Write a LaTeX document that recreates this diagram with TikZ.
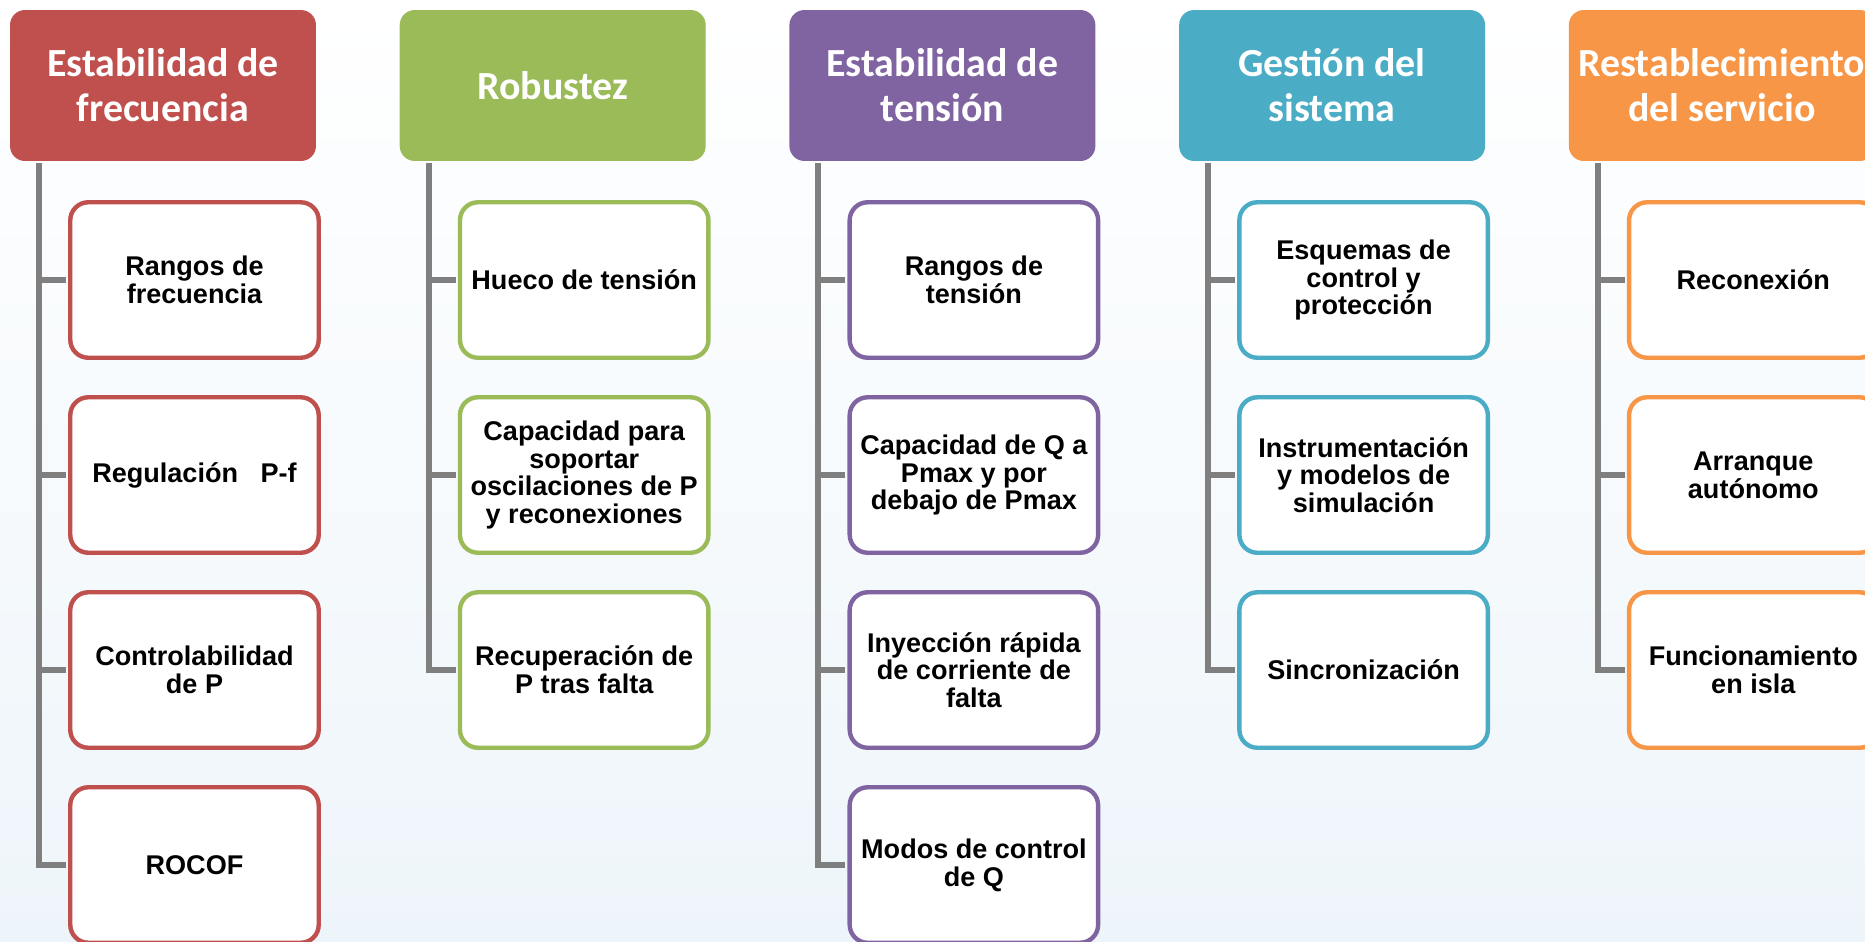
\documentclass[tikz,border=0pt]{standalone}
\usepackage{fontspec}
\setmainfont{Liberation Sans}
\newfontfamily\headfont{Carlito}

% colours of the five columns
\definecolor{col1}{HTML}{C0504D}
\definecolor{col2}{HTML}{9BBB59}
\definecolor{col3}{HTML}{8064A2}
\definecolor{col4}{HTML}{4BACC6}
\definecolor{col5}{HTML}{F79646}
\definecolor{spinegray}{HTML}{7F7F7F}
\definecolor{bglight}{HTML}{EEF5FA}

\tikzset{
  head/.style={rounded corners=0.3cm, minimum width=6.12cm,
    minimum height=3.02cm, inner sep=0pt, text=white, align=center,
    font=\headfont\bfseries\fontsize{22.7}{25.5}\selectfont},
  item/.style={draw, fill=white, line width=2.5pt, rounded corners=0.36cm,
    minimum width=4.97cm, minimum height=3.11cm, inner sep=0pt,
    align=center, font=\bfseries\fontsize{15.4}{15.8}\selectfont},
  spine/.style={spinegray, line width=3.4pt}
}

\begin{document}
\begin{tikzpicture}[x=0.02cm,y=-0.02cm]
    % the background
    \shade[top color=white,bottom color=bglight] (0,0) rectangle (1865,941);
    \useasboundingbox (0,0) rectangle (1865,941);

    % the headers
    \foreach \col/\head in {1/{Estabilidad de\\frecuencia}, 2/{Robustez},
      3/{Estabilidad de\\tensión}, 4/{Gestión del\\sistema},
      5/{Restablecimiento\\del servicio}} {
      \node[head,fill=col\col] (head\col) at ({163+389.7*(\col-1)},85.5) {\head};
      \coordinate (sp\col) at ({39+389.7*(\col-1)},163); }

    % the boxes below each header
    \foreach \row/\txt in {1/{Rangos de\\frecuencia}, 2/{Regulación~~~P-f},
      3/{Controlabilidad\\de P}, 4/{ROCOF}} {
      \node[item,draw=col1] (box1-\row) at (194.5,{280+195*(\row-1)}) {\txt}; }
    \foreach \row/\txt in {1/{Hueco de tensión},
      2/{Capacidad para\\soportar\\oscilaciones de P\\y reconexiones},
      3/{Recuperación de\\P tras falta}} {
      \node[item,draw=col2] (box2-\row) at (584.2,{280+195*(\row-1)}) {\txt}; }
    \foreach \row/\txt in {1/{Rangos de\\tensión},
      2/{Capacidad de Q a\\Pmax y por\\debajo de Pmax},
      3/{Inyección rápida\\de corriente de\\falta}, 4/{Modos de control\\de Q}} {
      \node[item,draw=col3] (box3-\row) at (973.9,{280+195*(\row-1)}) {\txt}; }
    \foreach \row/\txt in {1/{Esquemas de\\control y\\protección},
      2/{Instrumentación\\y modelos de\\simulación}, 3/{Sincronización}} {
      \node[item,draw=col4] (box4-\row) at (1363.6,{280+195*(\row-1)}) {\txt}; }
    \foreach \row/\txt in {1/{Reconexión}, 2/{Arranque\\autónomo},
      3/{Funcionamiento\\en isla}} {
      \node[item,draw=col5] (box5-\row) at (1753.3,{280+195*(\row-1)}) {\txt}; }

    % the gray spines
    \foreach \col/\last in {1/4, 2/3, 3/4, 4/3, 5/3} {
      \foreach \row in {1,...,\last} {
        \draw[spine,shorten >=1.25pt] (sp\col) |- (box\col-\row.west); } }
\end{tikzpicture}
\end{document}
